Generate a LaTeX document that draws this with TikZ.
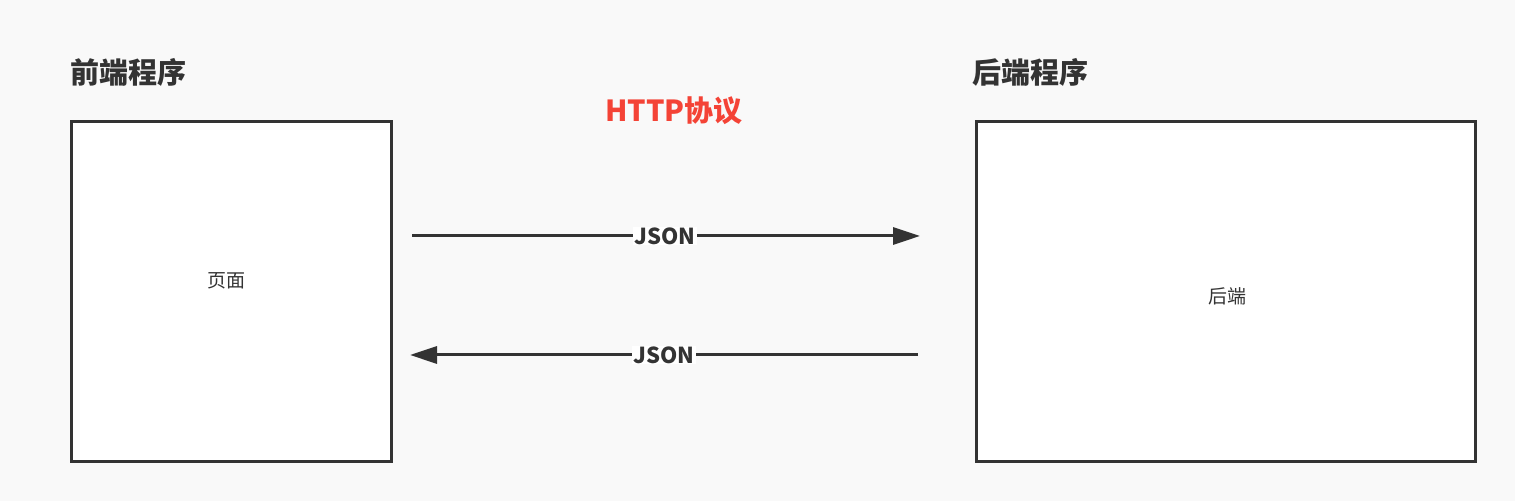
\documentclass[tikz,border=0pt]{standalone}
\usepackage{fontspec}
\setmainfont{Noto Sans CJK SC}
\usetikzlibrary{arrows.meta}
\definecolor{bgray}{HTML}{F9F9F9}
\definecolor{ink}{HTML}{333333}
\definecolor{httpred}{HTML}{F44336}
\tikzset{
    progbox/.style={draw=ink, fill=white, line width=1.5pt, minimum height=170pt},
    title/.style={text=ink, font=\fontsize{14.5}{17}\selectfont\bfseries, anchor=west, inner sep=0pt},
    msg/.style={-{Triangle[length=13.5pt, width=8.5pt]}, draw=ink, line width=1.5pt},
    jsonlabel/.style={fill=white, text=ink, font=\fontsize{11}{13}\selectfont\bfseries, inner sep=0.5pt}
}
\begin{document}
\begin{tikzpicture}[x=0.5pt, y=-0.5pt]
    \fill [bgray] (0,0) rectangle (1515,501);
    \useasboundingbox (0,0) rectangle (1515,501);
    % boxes
    \node [progbox, minimum width=160pt] (front) at (231.5,291.5) {};
    \node [progbox, minimum width=249.5pt] (back) at (1226,291.5) {};
    \node [title] (fronttitle) at (70,72) {前端程序};
    \node [title] (backtitle) at (972,72) {后端程序};
    \node [text=ink, font=\fontsize{9.5}{11}\selectfont] (page) at (226,281) {页面};
    \node [text=ink, font=\fontsize{9.5}{11}\selectfont] (server) at (1227,296) {后端};
    \node [text=httpred, font=\fontsize{14.5}{17}\selectfont\bfseries] (http) at (674,111) {HTTP协议};
    % messages
    \coordinate (reqstart) at (412,236);
    \coordinate (reqend) at (920,236);
    \coordinate (resstart) at (918,355);
    \coordinate (resend) at (410,355);
    \draw [msg] (reqstart) -- (reqend) node [jsonlabel, pos=0.5, xshift=-0.5pt] (req) {JSON};
    \draw [msg] (resstart) -- (resend) node [jsonlabel, pos=0.5, xshift=0pt] (res) {JSON};
\end{tikzpicture}
\end{document}
